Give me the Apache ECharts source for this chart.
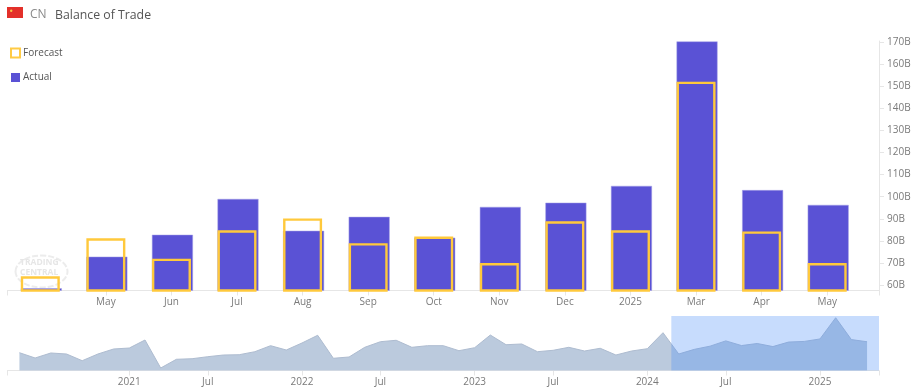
<!DOCTYPE html>
<html>
<head>
<meta charset="utf-8">
<style>html,body{margin:0;padding:0;background:#fff}#c{width:914px;height:390px}</style>
<script src="https://cdn.jsdelivr.net/npm/echarts@6/dist/echarts.min.js"></script>
</head>
<body>
<div id="c"></div>
<script>
const categories = ['', 'May', 'Jun', 'Jul', 'Aug', 'Sep', 'Oct', 'Nov', 'Dec', '2025', 'Mar', 'Apr', 'May'];
const actual = [58.6, 72.9, 82.8, 99, 84.6, 90.9, 81.5, 95.4, 97.3, 104.9, 170.2, 103, 96.3];
const forecast = [64, 81.2, 72, 84.8, 90.2, 79, 82, 70, 88.9, 84.8, 152, 84.3, 70];
const history = [62.6, 46.3, 61.7, 58.6, 38, 58.6, 74, 77, 101.7, 15.5, 42.3, 44.1, 50.3, 55.5, 56.4, 65.7, 84.2, 70.9, 92.5, 116.2, 45.4, 49.4, 79.2, 96.5, 100.8, 79.2, 84.2, 84.2, 68.8, 78, 117, 87.2, 89.4, 65.7, 70, 79.2, 67.8, 76.2, 55.5, 67.8, 74.9, 124.2];
const yTicks = [60, 70, 80, 90, 100, 110, 120, 130, 140, 150, 160, 170];
const navTickIndex = [7, 12, 18, 23, 29, 34, 40, 45, 51];
const navTickLabel = ['2021', 'Jul', '2022', 'Jul', '2023', 'Jul', '2024', 'Jul', '2025'];

const navValues = history.concat(actual);
const font = '"Open Sans", sans-serif';
const lineCol = '#e6e6e6';
const textCol = '#7a7a7a';
const catIdx = categories.map((_, i) => i);
const mainXMin = -0.5, mainXMax = 12.79;
const navXMin = -0.76, navXMax = navValues.length - 1 + 0.76;

const chart = echarts.init(document.getElementById('c'), null, {renderer: 'canvas'});
chart.setOption({
  animation: false,
  backgroundColor: '#fff',
  title: [
    {text: 'CN', left: 25, top: 4, textStyle: {fontFamily: font, fontSize: 12, fontWeight: 'normal', color: '#8a8a8a'}},
    {text: 'Balance of Trade', left: 50, top: 4, textStyle: {fontFamily: font, fontSize: 12.3, fontWeight: 'normal', color: '#555'}}
  ],
  legend: {
    orient: 'vertical', left: 5, top: 42.5, itemWidth: 9, itemHeight: 9, itemGap: 14,
    selectedMode: false,
    textStyle: {fontFamily: font, fontSize: 10, color: '#555', padding: [0, 0, 0, -2]},
    data: [
      {name: 'Forecast', icon: 'rect', itemStyle: {color: '#fff', borderColor: '#FFCB45', borderWidth: 2}},
      {name: 'Actual', icon: 'rect', itemStyle: {color: '#5A52D5', borderWidth: 0}}
    ]
  },
  graphic: [
    {type: 'rect', left: 7, top: 7, z: 10, shape: {width: 16, height: 11}, style: {fill: '#E3302A'}},
    {type: 'circle', left: 10, top: 9.5, z: 11, shape: {r: 1.2}, style: {fill: '#F6C445'}},
    {type: 'ellipse', left: 13, top: 253, z: 0, shape: {cx: 26, cy: 16, rx: 26, ry: 16}, style: {fill: 'none', stroke: '#ececec', lineWidth: 2, lineDash: [6, 2]}},
    {type: 'text', left: 20, top: 258, z: 0, style: {text: 'TRADING', font: 'bold 8.5px ' + font, fill: '#e6e6e6'}},
    {type: 'text', left: 20, top: 268, z: 0, style: {text: 'CENTRAL', font: 'bold 8.5px ' + font, fill: '#e6e6e6'}}
  ],
  grid: [
    {left: 7.5, right: 35, top: 41, height: 249.5},
    {left: 7.5, right: 35, top: 316, height: 54.5}
  ],
  xAxis: [
    {
      type: 'value', gridIndex: 0, min: mainXMin, max: mainXMax, splitLine: {show: false},
      axisLine: {lineStyle: {color: lineCol}},
      axisTick: {length: 5, lineStyle: {color: lineCol}, customValues: [mainXMin].concat(catIdx.slice(1), [mainXMax])},
      axisLabel: {customValues: catIdx.slice(1), formatter: v => categories[v], color: textCol, fontFamily: font, fontSize: 10, margin: 7}
    },
    {
      type: 'value', gridIndex: 1, min: navXMin, max: navXMax, splitLine: {show: false},
      axisLine: {lineStyle: {color: lineCol}},
      axisTick: {length: 5, lineStyle: {color: lineCol}, customValues: [navXMin].concat(navTickIndex, [navXMax])},
      axisLabel: {customValues: navTickIndex, formatter: v => navTickLabel[navTickIndex.indexOf(v)], color: textCol, fontFamily: font, fontSize: 10, margin: 7}
    }
  ],
  yAxis: [
    {
      type: 'value', gridIndex: 0, position: 'right', min: 57.6, max: 170.4, splitLine: {show: false},
      axisLine: {show: true, onZero: false, lineStyle: {color: lineCol}},
      axisTick: {show: true, length: 5, lineStyle: {color: lineCol}, customValues: yTicks},
      axisLabel: {customValues: yTicks, formatter: v => v + 'B', color: textCol, fontFamily: font, fontSize: 10, margin: 8}
    },
    {type: 'value', gridIndex: 1, min: 7.8, max: 175.6, show: false}
  ],
  series: [
    {
      name: 'Actual', type: 'bar', xAxisIndex: 0, yAxisIndex: 0, barWidth: 41, barGap: '-100%', z: 2,
      itemStyle: {color: '#5A52D5', borderColor: '#a6a2e6', borderWidth: 0.5},
      data: actual.map((v, i) => [i, v])
    },
    {
      name: 'Forecast', type: 'bar', xAxisIndex: 0, yAxisIndex: 0, barWidth: 39, barGap: '-100%', z: 3,
      itemStyle: {color: 'rgba(0,0,0,0)', borderColor: '#FFC93C', borderWidth: 2.4},
      data: forecast.map((v, i) => [i, v])
    },
    {
      name: 'History', type: 'line', xAxisIndex: 1, yAxisIndex: 1, symbol: 'none', z: 2,
      lineStyle: {color: '#aebcd0', width: 1},
      areaStyle: {color: '#BBCADD', opacity: 1},
      data: navValues.map((v, i) => [i, v]),
      markArea: {
        silent: true, z: 5,
        itemStyle: {color: 'rgba(70,140,250,0.3)'},
        data: [[{xAxis: history.length - 0.47}, {xAxis: navXMax}]]
      }
    }
  ]
});
</script>
</body>
</html>
